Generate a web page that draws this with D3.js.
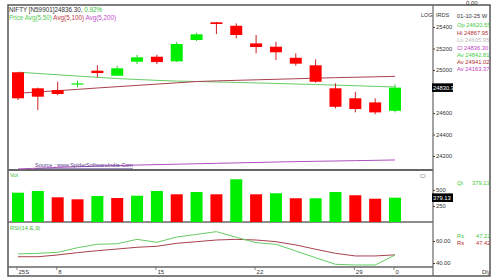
<!DOCTYPE html>
<html><head><meta charset="utf-8">
<script src="https://cdn.jsdelivr.net/npm/d3@7"></script>
<style>body{margin:0;background:#fff}text{font-family:"Liberation Sans",Arial,sans-serif}</style>
</head><body>
<script>
// ---- data ----
const dayIdx = d3.range(20);
const open  = [24979,24830,24814,24870,24994,24947,25077,25124,25081,25279,25444,25412,25248,25217,25114,25044,24830,24737,24699,24620.55];
const high  = [24981,24836,24891,24900,25044,25040,25140,25142,25262,25347,25448,25434,25326,25263,25155,25099,24876,24798,24737,24867.95];
const low   = [24721,24628,24767,24839,24932,24945,25056,25056,25074,25270,25335,25295,25155,25093,25040,24882,24644,24606,24588,24605.95];
const close = [24737,24752,24777,24876,24972,25016,25118,25074,25242,25332,25428,25326,25214,25165,25059,24891,24658,24637,24606,24836.30];
const avg50  = [24980,24968,24956,24944,24932,24921,24912,24904,24897,24893,24889,24885,24880,24875,24870,24865,24860,24854,24848,24842.81];
const avg100 = [24784,24796,24808,24820,24833,24845,24857,24869,24881,24893,24899,24904,24909,24914,24919,24924,24929,24933,24937,24941.02];
const avg200 = [24080,24087,24094,24100,24106,24111,24116,24120,24124,24128,24132,24136,24140,24144,24148,24151,24154,24157,24160,24163.37];
const volume = [457,484,385,354,406,374,410,484,432,468,432,666,432,448,370,370,468,417,363,379.13];
const volColor = ["g","g","r","r","g","r","g","g","r","g","r","g","r","g","r","g","g","r","r","g"];
const rsi    = [48.2,48.8,49.7,53.9,57.0,57.5,61.5,58.8,63.6,66.0,68.5,63.4,58.5,57.0,50.9,44.8,38.8,38.2,38.2,47.22];
const rsiSig = [45.7,45.7,47.3,49.4,51.2,52.7,54.3,55.2,57.9,59.4,60.9,61.5,60.9,59.4,56.4,52.5,48.8,46.4,46.4,47.42];
const xTickIdx = [0,2,7,12,17,19];
const xTickLabels = ["25S","8","15","22","29","0"];
const priceTicks = [25400,25200,25000,24600,24400,24200];
const volTicks = [500,250];
const rsiTicks = [60,40];

const GREEN="#00ee00", RED="#ff0000";
const svg = d3.select("body").append("svg").attr("width",500).attr("height",280);

const L=8, R=433, RB=490, TOP=5, BOT=276;
const x = d3.scalePoint().domain(dayIdx).range([18,395]);
const bw = 12;
const yP = d3.scaleLinear().domain([24070,25605]).range([170,5]);
const yV = d3.scaleLinear().domain([0,811]).range([222,170]);
const yR = d3.scaleLinear().domain([36.36,77.27]).range([267,222]);

// frame
svg.append("rect").attr("x",L).attr("y",TOP).attr("width",RB-L).attr("height",BOT-TOP)
  .attr("fill","none").attr("stroke","#555").attr("stroke-width",1.5);
svg.append("line").attr("x1",R).attr("x2",R).attr("y1",TOP).attr("y2",BOT).attr("stroke","#666").attr("stroke-width",1.2);
[[170,2.2],[222,1.6],[267,1.4]].forEach(([yy,w])=>{
  svg.append("line").attr("x1",L).attr("x2",R).attr("y1",yy).attr("y2",yy).attr("stroke","#666").attr("stroke-width",w);
});

// moving averages
const line = (arr,ys)=>d3.line().x((d,i)=>x(i)).y(d=>ys(d))(arr);
svg.append("path").attr("d",line(avg200,yP)).attr("fill","none").attr("stroke","#b050c0").attr("stroke-width",1);
svg.append("text").attr("x",35).attr("y",167).attr("font-size",5.5).attr("fill","#5a3a8a")
  .attr("text-decoration","underline").text("Source : www.SpiderSoftwareIndia.Com");
svg.append("path").attr("d",line(avg50,yP)).attr("fill","none").attr("stroke","#66cc66").attr("stroke-width",1);
svg.append("path").attr("d",line(avg100,yP)).attr("fill","none").attr("stroke","#a84050").attr("stroke-width",1);

// candles
const cg = svg.append("g");
dayIdx.forEach(i=>{
  const up = close[i]>=open[i];
  const col = up?GREEN:RED;
  cg.append("line").attr("x1",x(i)).attr("x2",x(i)).attr("y1",yP(high[i])).attr("y2",yP(low[i]))
    .attr("stroke",up?"#33cc33":"#cc2020").attr("stroke-width",1);
  const t = yP(Math.max(open[i],close[i])), b = yP(Math.min(open[i],close[i]));
  cg.append("rect").attr("x",x(i)-bw/2).attr("y",t).attr("width",bw).attr("height",Math.max(1.2,b-t)).attr("fill",col);
});

// volume
dayIdx.forEach(i=>{
  svg.append("rect").attr("x",x(i)-bw/2).attr("y",yV(volume[i])).attr("width",bw)
    .attr("height",yV(0)-yV(volume[i])).attr("fill",volColor[i]==="g"?GREEN:RED);
});

// rsi
svg.append("path").attr("d",line(rsiSig,yR)).attr("fill","none").attr("stroke","#a84050").attr("stroke-width",1);
svg.append("path").attr("d",line(rsi,yR)).attr("fill","none").attr("stroke","#66cc66").attr("stroke-width",1);

// right axes
const axStyle = g=>{g.select(".domain").remove();g.selectAll("line").attr("stroke","#444");
  g.selectAll("text").attr("font-size",5.8).attr("fill","#333").attr("font-family","Liberation Sans,Arial,sans-serif");};
svg.append("g").attr("transform",`translate(${R},0)`).call(d3.axisRight(yP).tickValues(priceTicks).tickSize(2).tickPadding(1).tickFormat(d3.format("d"))).call(axStyle);
svg.append("g").attr("transform",`translate(${R},0)`).call(d3.axisRight(yV).tickValues(volTicks).tickSize(2).tickPadding(1).tickFormat(d3.format("d"))).call(axStyle);
svg.append("g").attr("transform",`translate(${R},0)`).call(d3.axisRight(yR).tickValues(rsiTicks).tickSize(2).tickPadding(1).tickFormat(d3.format(".2f"))).call(axStyle);

// black value boxes
function box(yc,label){
  svg.append("rect").attr("x",432).attr("y",yc-4.3).attr("width",21).attr("height",8.6).attr("fill","#000");
  svg.append("text").attr("x",433).attr("y",yc+2).attr("font-size",5.8).attr("fill","#fff").text(label);
}
box(yP(close[19]),"24830.3");
box(yV(volume[19]),"379.13");

// x axis labels
xTickIdx.forEach((ix,k)=>{
  svg.append("line").attr("x1",x(ix)-1).attr("x2",x(ix)-1).attr("y1",267).attr("y2",270).attr("stroke","#666").attr("stroke-width",0.8);
  svg.append("text").attr("x",x(ix)+0.5).attr("y",274).attr("font-size",6).attr("fill","#333").text(xTickLabels[k]);
});

// header texts
const t1 = svg.append("text").attr("x",9).attr("y",11.5).attr("font-size",6.3).attr("fill","#333");
t1.append("tspan").text("NIFTY [N59901]24836.30, ");
t1.append("tspan").attr("fill","#33bb33").text("0.92%");
const t2 = svg.append("text").attr("x",9).attr("y",19.5).attr("font-size",6.3);
t2.append("tspan").attr("fill","#55cc55").text("Price Avg(5,50) ");
t2.append("tspan").attr("fill","#c03a4a").text("Avg(5,100) ");
t2.append("tspan").attr("fill","#c050c8").text("Avg(5,200)");
svg.append("text").attr("x",10).attr("y",177).attr("font-size",5.8).attr("fill","#44bb44").text("Vol");
svg.append("text").attr("x",10).attr("y",230).attr("font-size",5.8).attr("fill","#44bb44").text("RSI(14,E,9)");
svg.append("text").attr("x",420).attr("y",178).attr("font-size",5.8).attr("fill","#888").text("Cl");
svg.append("text").attr("x",421).attr("y",17).attr("font-size",5.5).attr("fill","#333").text("LOG");

// right info panel (clipped)
svg.append("clipPath").attr("id","rc").append("rect").attr("x",R+1).attr("y",0).attr("width",RB-R-1.5).attr("height",280);
const info = svg.append("g").attr("clip-path","url(#rc)");
info.append("text").attr("x",466).attr("y",5).attr("font-size",6).attr("fill","#333").text("0.00");
info.append("text").attr("x",436).attr("y",17).attr("font-size",5.5).attr("fill","#333").text("IRDS");
info.append("text").attr("x",457).attr("y",17.5).attr("font-size",5.8).attr("fill","#333").text("01-10-25 W");
const rows = [["Op 24620.55","#44cc44",26.5],["Hi 24867.95","#b03030",35],["Lo 24605.95","#bbbbbb",42],
  ["Cl 24836.30","#c040c0",49.5],["Av 24842.81","#44cc44",56.5],["Av 24941.02","#b03030",63.5],["Av 24163.37","#c040c0",71]];
rows.forEach(([s,c,yy])=>info.append("text").attr("x",457).attr("y",yy).attr("font-size",5.8).attr("fill",c).text(s));
info.append("text").attr("x",457).attr("y",185).attr("font-size",5.8).attr("fill","#44cc44").text("Qt");
info.append("text").attr("x",472).attr("y",185).attr("font-size",5.8).attr("fill","#44cc44").text("379.13");
info.append("text").attr("x",457).attr("y",238).attr("font-size",5.8).attr("fill","#44cc44").text("Rs");
info.append("text").attr("x",476).attr("y",238).attr("font-size",5.8).attr("fill","#44cc44").text("47.22");
info.append("text").attr("x",457).attr("y",245).attr("font-size",5.8).attr("fill","#c03030").text("Rs");
info.append("text").attr("x",476).attr("y",245).attr("font-size",5.8).attr("fill","#c03030").text("47.42");
info.append("text").attr("x",482).attr("y",274).attr("font-size",5.8).attr("fill","#333").text("Dly");
</script>
</body></html>
